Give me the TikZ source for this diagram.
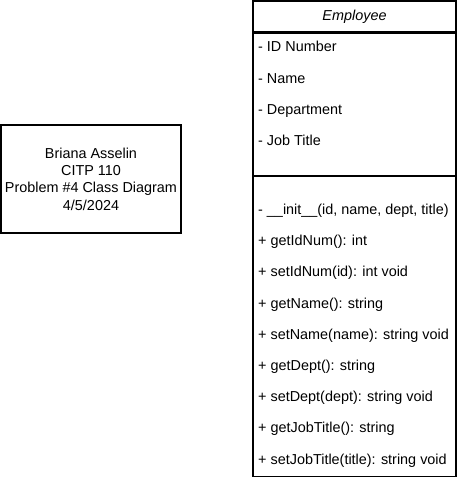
\documentclass[tikz,border=0pt]{standalone}
\usepackage{fontspec}
\setmainfont{Liberation Sans}
\usetikzlibrary{positioning}

\begin{document}
\begin{tikzpicture}[
    x=1pt, y=-1pt,
    font=\fontsize{14.4}{17.3}\selectfont,
    node distance=17.8pt,
    box/.style={draw, line width=1.1pt, inner sep=0pt, minimum width=#1},
    row/.style={anchor=west, inner sep=0pt, text height=10pt, text depth=3pt},
  ]
    \useasboundingbox (0,0) rectangle (458,478);

    % Left block: author info
    \node[box=180, minimum height=108, align=center] (info) at (91,179) {%
      Briana Asselin\\CITP 110\\Problem \#4 Class Diagram\\4/5/2024};

    % Class: header + compartments
    \node[box=203, minimum height=31] (hdr) at (354.5,16.5) {\itshape Employee};
    \node[box=203, minimum height=142, below=0pt of hdr] (attrs) {};
    \node[box=203, minimum height=300, below=0pt of attrs] (meths) {};

    % Attributes
    \node[row] (idnum) at (258,48.5) {- ID Number};
    \node[row, below=of idnum.south west, anchor=north west] (name) {- Name};
    \node[row, below=of name.south west, anchor=north west] (dept) {- Department};
    \node[row, below=of dept.south west, anchor=north west] (title) {- Job Title};

    % Methods
    \node[row] (init) at (258,211) {- \_\_init\_\_(id, name, dept, title)};
    \node[row, below=of init.south west, anchor=north west] (getid) {+ getIdNum(): int};
    \node[row, below=of getid.south west, anchor=north west] (setid) {+ setIdNum(id): int void};
    \node[row, below=of setid.south west, anchor=north west] (getname) {+ getName(): string};
    \node[row, below=of getname.south west, anchor=north west] (setname) {+ setName(name): string void};
    \node[row, below=of setname.south west, anchor=north west] (getdept) {+ getDept(): string};
    \node[row, below=of getdept.south west, anchor=north west] (setdept) {+ setDept(dept): string void};
    \node[row, below=of setdept.south west, anchor=north west] (getjob) {+ getJobTitle(): string};
    \node[row, below=of getjob.south west, anchor=north west] (setjob) {+ setJobTitle(title): string void};
  \end{tikzpicture}
\end{document}
